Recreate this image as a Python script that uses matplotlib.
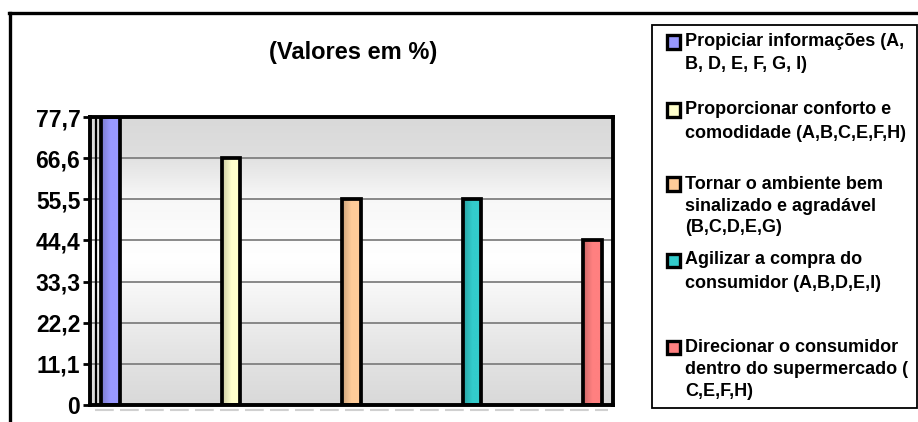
import numpy as np
import matplotlib
matplotlib.use("Agg")
import matplotlib.pyplot as plt
from matplotlib.patches import Rectangle
from matplotlib.lines import Line2D
from matplotlib.colors import LinearSegmentedColormap, to_rgb
import matplotlib.transforms as mtransforms

plt.rcParams['font.family'] = ['Liberation Sans', 'DejaVu Sans']
plt.rcParams['font.weight'] = 'bold'

# data
labels = [
    ["Propiciar informações (A,", "B, D, E, F, G, I)"],
    ["Proporcionar conforto e", "comodidade (A,B,C,E,F,H)"],
    ["Tornar o ambiente bem", "sinalizado e agradável", "(B,C,D,E,G)"],
    ["Agilizar a compra do", "consumidor (A,B,D,E,I)"],
    ["Direcionar o consumidor", "dentro do supermercado (", "C,E,F,H)"],
]
values = [77.7, 66.6, 55.5, 55.5, 44.4]
colors = ["#9999ff", "#ffffcc", "#ffcc99", "#33cccc", "#ff8080"]
yticks = [0, 11.1, 22.2, 33.3, 44.4, 55.5, 66.6, 77.7]
ytick_labels = ["0", "11,1", "22,2", "33,3", "44,4", "55,5", "66,6", "77,7"]
title = "(Valores em %)"

W, H = 918, 422
fig = plt.figure(figsize=(W / 100, H / 100), dpi=100)


def fx(px):
    return px / W


def fy(py):
    return 1 - py / H


# outer chart frame (cropped, only top and left visible)
fig.add_artist(Line2D([fx(9), fx(918)], [fy(13), fy(13)], color="black", lw=2.4))
fig.add_artist(Line2D([fx(10), fx(10)], [fy(13), fy(422)], color="black", lw=2.4))

ax = fig.add_axes([fx(90), fy(405), fx(613) - fx(90), fy(117) - fy(405)])
x = np.arange(len(values))
xlim = (-0.17, len(values) - 1 + 0.17)
ylim = (0, yticks[-1])

# wall background gradient (gray - white - gray)
stops = [(0.0, (0.85, 0.85, 0.85)), (0.2, (0.90, 0.90, 0.90)),
         (0.5, (1.0, 1.0, 1.0)), (0.72, (0.97, 0.97, 0.97)),
         (0.88, (0.87, 0.87, 0.87)), (1.0, (0.85, 0.85, 0.85))]
bg_cmap = LinearSegmentedColormap.from_list("wall", stops)
grad_v = np.linspace(0, 1, 256).reshape(-1, 1)
ax.imshow(grad_v, cmap=bg_cmap, extent=[xlim[0], xlim[1], ylim[0], ylim[1]],
          origin="lower", aspect="auto", zorder=0.1)

ax.set_axisbelow(True)
ax.yaxis.grid(True, color="#808080", lw=1.3)

# cylinder-like bars
bw = 0.15
bars = ax.bar(x, values, width=bw, facecolor="none", edgecolor="black",
              linewidth=2.7, zorder=3)
for b, c in zip(bars, colors):
    base = np.array(to_rgb(c))
    dark = base * 0.8
    cm = LinearSegmentedColormap.from_list("cyl", [dark, base, base])
    gx = np.linspace(0, 1, 64).reshape(1, -1)
    im = ax.imshow(gx, cmap=cm, aspect="auto", zorder=2,
                   extent=[b.get_x(), b.get_x() + b.get_width(), 0, b.get_height()])
    im.set_clip_path(b)

ax.set_xlim(*xlim)
ax.set_ylim(*ylim)
ax.set_xticks([])
ax.set_yticks(yticks)
ax.set_yticklabels(ytick_labels, fontsize=16.5, fontweight="bold")
ax.tick_params(axis="y", direction="out", length=5, width=2, pad=2)
for s in ax.spines.values():
    s.set_linewidth(2.8)
    s.set_color("black")

# inner wall edge and floor shadow
off = mtransforms.ScaledTranslation(6 / 100, 0, fig.dpi_scale_trans)
ax.add_line(Line2D([0, 0], [0, 1], transform=ax.transAxes + off,
                   color="black", lw=1.6, zorder=4))
down = mtransforms.ScaledTranslation(0, -5 / 100, fig.dpi_scale_trans)
ax.add_line(Line2D([0.01, 0.99], [0, 0], transform=ax.transAxes + down,
                   color="#d0d0d0", lw=1.5, ls=(0, (9, 3)), clip_on=False))

fig.text(fx(353), fy(52), title, ha="center", va="center",
         fontsize=17, fontweight="bold")

# legend box
fig.add_artist(Rectangle((fx(652), fy(408)), fx(917) - fx(652), fy(25) - fy(408),
                         transform=fig.transFigure, fill=False,
                         edgecolor="black", lw=1.3))
line_y = [[42, 64.5], [110, 133], [184, 206, 228], [260, 283], [347, 369, 392]]
for lines, ys, c in zip(labels, line_y, colors):
    fig.add_artist(Rectangle((fx(667), fy(ys[0] + 6.5)), fx(13), 13 / H,
                             transform=fig.transFigure, facecolor=c,
                             edgecolor="black", lw=2.4))
    for t, yy in zip(lines, ys):
        fig.text(fx(685), fy(yy), t, ha="left", va="center",
                 fontsize=13, fontweight="bold")

fig.savefig("out.png", dpi=100)
